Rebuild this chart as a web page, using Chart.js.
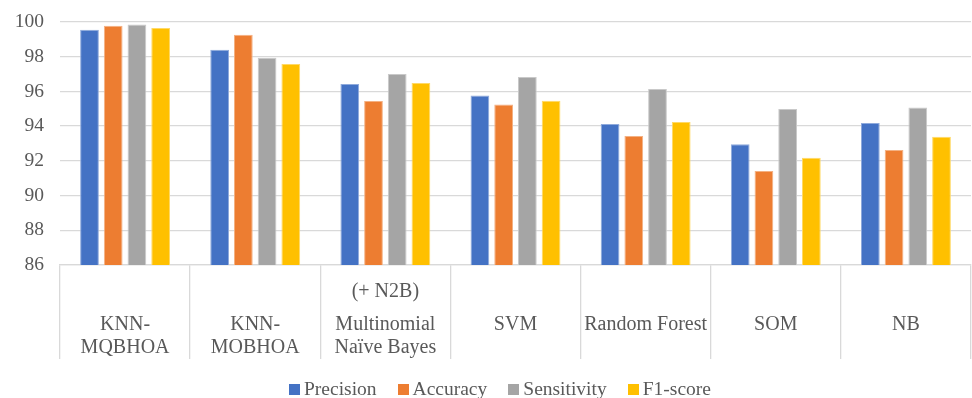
<!DOCTYPE html>
<html>
<head>
<meta charset="utf-8">
<script src="https://cdn.jsdelivr.net/npm/chart.js@4.4.1/dist/chart.umd.min.js"></script>
<style>
  html, body { margin: 0; padding: 0; background: #fff; }
  #wrap { position: relative; width: 972px; height: 398px; }
  #legend {
    position: absolute; left: 289px; top: 378px; height: 22px;
    display: flex; align-items: center;
    font-family: "Liberation Serif", "Times New Roman", serif;
    font-size: 19.5px; color: #595959; line-height: 22px; white-space: nowrap;
  }
  #legend .item { display: flex; align-items: center; margin-right: 21px; }
  #legend .box { width: 11px; height: 11px; margin-right: 4px; }
</style>
</head>
<body>
<div id="wrap">
  <canvas id="c" width="972" height="398"></canvas>
  <div id="legend"></div>
</div>
<script>
// Categories (one array entry per text line) and the small note shown above one of them
const categories = [
  ["KNN-", "MQBHOA"],
  ["KNN-", "MOBHOA"],
  ["Multinomial", "Naïve Bayes"],
  ["SVM"],
  ["Random Forest"],
  ["SOM"],
  ["NB"]
];
const categoryNotes = ["", "", "(+ N2B)", "", "", "", ""];

// Metric values per model (%)
const precision   = [99.56, 98.40, 96.43, 95.76, 94.12, 92.95, 94.18];
const accuracy    = [99.79, 99.27, 95.45, 95.24, 93.43, 91.42, 92.63];
const sensitivity = [99.86, 97.94, 97.00, 96.83, 96.14, 94.99, 95.08];
const f1score     = [99.65, 97.58, 96.49, 95.47, 94.24, 92.18, 93.39];

const seriesNames = ["Precision", "Accuracy", "Sensitivity", "F1-score"];
const yTicks = [86, 88, 90, 92, 94, 96, 98, 100];

const colors = ["#4472C4", "#ED7D31", "#A5A5A5", "#FFC000"];
const edges  = ["#8FAADC", "#F4B183", "#C9C9C9", "#FFD966"];
const textColor = "#595959";
const gridColor = "#D9D9D9";
const serif = "'Liberation Serif', 'Times New Roman', serif";

const seriesValues = [precision, accuracy, sensitivity, f1score];

// Draws the multi-line category captions centred under each category
const categoryLabelPlugin = {
  id: "categoryLabels",
  afterDraw(chart) {
    const ctx = chart.ctx;
    const x = chart.scales.x;
    const base = chart.chartArea.bottom;
    ctx.save();
    ctx.fillStyle = textColor;
    ctx.font = "20px " + serif;
    ctx.textAlign = "center";
    ctx.textBaseline = "middle";
    categories.forEach((lines, i) => {
      const cx = x.getPixelForValue(i);
      lines.forEach((line, j) => ctx.fillText(line, cx, base + 60 + j * 23));
      if (categoryNotes[i]) ctx.fillText(categoryNotes[i], cx, base + 27);
    });
    ctx.restore();
  }
};

new Chart(document.getElementById("c"), {
  type: "bar",
  data: {
    labels: categories.map(l => l.join(" ")),
    datasets: seriesNames.map((name, k) => ({
      label: name,
      data: seriesValues[k],
      backgroundColor: colors[k],
      borderColor: edges[k],
      borderWidth: 1,
      categoryPercentage: 0.729,
      barPercentage: 0.79
    }))
  },
  options: {
    responsive: false,
    animation: false,
    devicePixelRatio: 1,
    layout: { padding: { left: 0, right: 1, top: 22, bottom: 39 } },
    plugins: {
      legend: { display: false },
      tooltip: { enabled: false }
    },
    scales: {
      x: {
        offset: true,
        grid: {
          offset: true,
          drawOnChartArea: false,
          drawTicks: true,
          tickLength: 94,
          color: gridColor,
          lineWidth: 1.3
        },
        border: { display: true, color: gridColor, width: 1.3 },
        ticks: { display: false }
      },
      y: {
        min: 86,
        max: 100,
        afterFit(scale) { scale.width = 60; },
        afterBuildTicks(scale) { scale.ticks = yTicks.map(v => ({ value: v })); },
        grid: {
          color: gridColor,
          lineWidth: 1.3,
          drawTicks: true,
          tickLength: 12,
          tickColor: "rgba(0,0,0,0)"
        },
        border: { display: false },
        ticks: {
          padding: 4,
          color: textColor,
          font: { family: serif, size: 19.5 }
        }
      }
    }
  },
  plugins: [categoryLabelPlugin]
});

// Legend row
const legend = document.getElementById("legend");
seriesNames.forEach((name, k) => {
  const item = document.createElement("div");
  item.className = "item";
  const box = document.createElement("span");
  box.className = "box";
  box.style.background = colors[k];
  const txt = document.createElement("span");
  txt.textContent = name;
  item.appendChild(box);
  item.appendChild(txt);
  legend.appendChild(item);
});
</script>
</body>
</html>
